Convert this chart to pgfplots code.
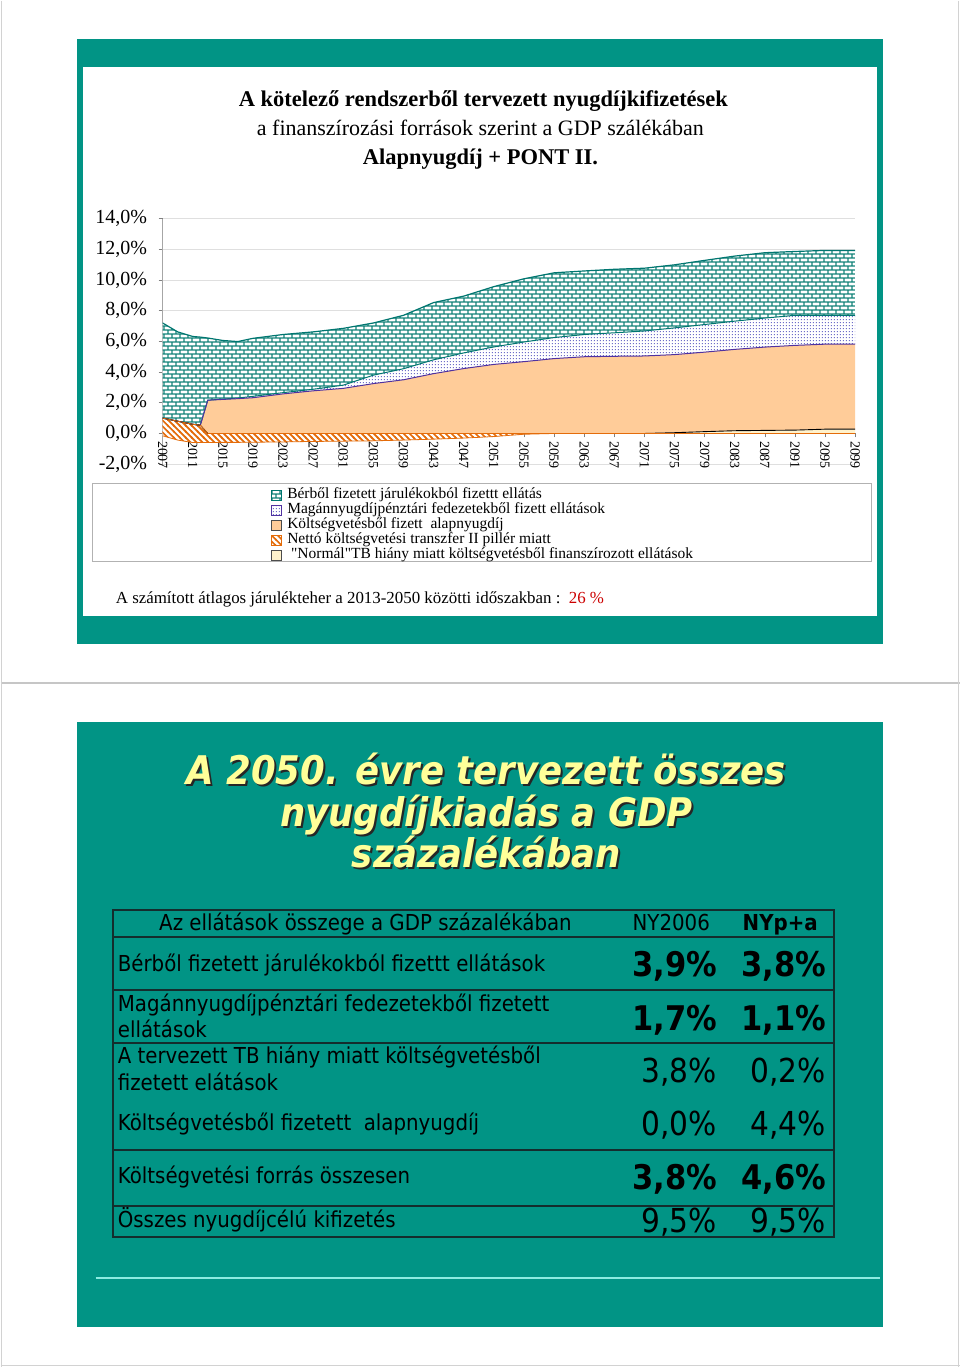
\documentclass[border=0pt]{standalone}
\usepackage{pgfplots}
\pgfplotsset{compat=1.18}
\usepackage{pgfplotstable}
\usetikzlibrary{patterns}
\usepackage{fontspec}
\setmainfont{Liberation Serif}
\newfontfamily\qfont{Liberation Serif}[Ligatures=TeXOff]
\newfontfamily\tah{DejaVu Sans}[FakeStretch=0.9]

\definecolor{slide}{RGB}{1,148,133}
\definecolor{brick}{RGB}{20,132,122}
\definecolor{brickline}{RGB}{0,118,112}
\definecolor{dotc}{RGB}{110,110,200}
\definecolor{alapc}{RGB}{255,204,153}
\definecolor{alapline}{RGB}{80,50,160}
\definecolor{hatchc}{RGB}{228,108,10}
\definecolor{tbfill}{RGB}{255,242,204}
\definecolor{titley}{RGB}{255,255,153}
\definecolor{tline}{RGB}{20,45,45}
\definecolor{deco}{RGB}{140,235,225}

% small excel-like fills
\pgfdeclarepatternformonly{xbricks}{\pgfpointorigin}{\pgfpoint{8pt}{8pt}}{\pgfpoint{8pt}{8pt}}{%
  \pgfsetlinewidth{1.45pt}%
  \pgfpathmoveto{\pgfpoint{0pt}{2pt}}\pgfpathlineto{\pgfpoint{8pt}{2pt}}%
  \pgfpathmoveto{\pgfpoint{0pt}{6pt}}\pgfpathlineto{\pgfpoint{8pt}{6pt}}%
  \pgfpathmoveto{\pgfpoint{1pt}{2pt}}\pgfpathlineto{\pgfpoint{1pt}{6pt}}%
  \pgfpathmoveto{\pgfpoint{5pt}{6pt}}\pgfpathlineto{\pgfpoint{5pt}{8pt}}%
  \pgfpathmoveto{\pgfpoint{5pt}{0pt}}\pgfpathlineto{\pgfpoint{5pt}{2pt}}%
  \pgfusepath{stroke}}
\pgfdeclarepatternformonly{xhatch}{\pgfpoint{-1pt}{-1pt}}{\pgfpoint{7pt}{7pt}}{\pgfpoint{6pt}{6pt}}{%
  \pgfsetlinewidth{1.7pt}%
  \pgfpathmoveto{\pgfpoint{-1pt}{7pt}}\pgfpathlineto{\pgfpoint{7pt}{-1pt}}%
  \pgfusepath{stroke}}
\pgfdeclarepatternformonly{xdots}{\pgfpointorigin}{\pgfpoint{3pt}{3pt}}{\pgfpoint{3pt}{3pt}}{%
  \pgfpathrectangle{\pgfpoint{1pt}{1pt}}{\pgfpoint{1pt}{1pt}}%
  \pgfusepath{fill}}

% layer sizes, % of GDP (stacked bottom to top)
% neg: negative part of the II pillar transfer, tr: transfer band, tb: "normal" TB deficit,
% al: alapnyugdij, mg: private funds, bb: contributions
\pgfplotstableread{
year  neg    tr    tb    al    mg    bb
2007 -0.15  1.15  0.00  0.00  0.00  6.20
2009 -0.43  1.23  0.00  0.00  0.00  5.82
2011 -0.59  1.19  0.00  0.00  0.00  5.72
2012 -0.59  1.13  0.00  0.00  0.00  5.74
2013 -0.59  0.59  0.00  2.17  0.00  4.05
2015 -0.58  0.58  0.00  2.22  0.02  3.82
2017 -0.58  0.58  0.00  2.27  0.04  3.68
2019 -0.57  0.57  0.00  2.33  0.09  3.78
2023 -0.55  0.55  0.00  2.58  0.08  3.79
2027 -0.52  0.52  0.00  2.78  0.10  3.74
2031 -0.50  0.50  0.00  2.94  0.21  3.70
2035 -0.48  0.48  0.00  3.25  0.55  3.40
2039 -0.43  0.43  0.00  3.50  0.72  3.48
2043 -0.37  0.37  0.00  3.90  0.90  3.73
2047 -0.30  0.30  0.00  4.23  1.02  3.70
2051 -0.20  0.20  0.00  4.50  1.14  3.93
2055 -0.05  0.05  0.00  4.68  1.28  4.12
2059  0.00  0.00  0.00  4.88  1.37  4.22
2063  0.00  0.00  0.00  5.00  1.45  4.14
2067  0.00  0.00  0.00  5.03  1.53  4.14
2071  0.00  0.00  0.00  5.05  1.63  4.09
2075  0.00  0.00  0.05  5.09  1.74  4.11
2079  0.00  0.00  0.12  5.18  1.80  4.18
2083  0.00  0.00  0.18  5.30  1.84  4.24
2087  0.00  0.00  0.20  5.43  1.89  4.26
2091  0.00  0.00  0.22  5.52  1.96  4.16
2095  0.00  0.00  0.28  5.54  1.88  4.23
2099  0.00  0.00  0.28  5.54  1.88  4.23
}\penzek

\pgfplotsset{chartbox/.style={
  at={(162pt,-464pt)}, anchor=south west,
  scale only axis, width=693pt, height=245.7pt,
  xmin=2007, xmax=2099, ymin=-2, ymax=14, stack plots=y}}

\begin{document}
\begin{tikzpicture}
\begin{scope}[x=1pt,y=-1pt]
\fill[white] (0,0) rectangle (960,1367);
\draw[gray!45, line width=1.5pt] (0,683) -- (960,683);
\draw[gray!35, line width=1pt] (0.5,0) -- (0.5,1367) (958.5,0) -- (958.5,1367) (0,1365.5) -- (960,1365.5);
\fill[slide] (76,39) rectangle (883,644);
\fill[white] (82,67) rectangle (877,616);
\fill[slide] (76,722) rectangle (883,1327);
\draw[gray!60, line width=0.8pt] (92,483) rectangle (871,561);
\end{scope}

% areas
\begin{axis}[chartbox,
  axis x line=middle, axis y line=left,
  x axis line style={-, draw=gray, line width=0.8pt},
  y axis line style={-, draw=gray!70, line width=0.8pt},
  hide obscured x ticks=false, hide obscured y ticks=false,
  tick align=outside, major tick length=4pt, minor tick length=3pt,
  tick style={draw=gray, line width=0.6pt},
  xtick={2007,2011,...,2099}, minor x tick num=3,
  xticklabels={2007,2011,2015,2019,2023,2027,2031,2035,2039,2043,2047,2051,2055,2059,2063,2067,2071,2075,2079,2083,2087,2091,2095,2099},
  xticklabel style={font=\fontsize{14}{14}\selectfont, rotate=-90, anchor=west},
  ytick={-2,0,...,14},
  yticklabels={{-2,0\%},{0,0\%},{2,0\%},{4,0\%},{6,0\%},{8,0\%},{10,0\%},{12,0\%},{14,0\%}},
  yticklabel style={font=\fontsize{20}{20}\selectfont, xshift=-8pt},
  ymajorgrids, grid style={draw=gray!25, line width=0.8pt},
  legend style={at={(axis description cs:0.1566,-0.0977)}, anchor=north west,
    draw=none, fill=none, font=\fontsize{15.5}{15.5}\selectfont, inner sep=0pt,
    nodes={inner sep=0.5pt, text height=10pt, text depth=4pt}},
  legend cell align=left,
  legend image code/.code={\draw[#1, line width=0.6pt] (0pt,-4pt) rectangle (9.5pt,5.5pt); \path (15pt,0pt);},
]
\addplot[draw=none, fill=none, forget plot] table[x=year, y=neg]{\penzek} \closedcycle;
\addplot[draw=none, pattern=xhatch, pattern color=hatchc, preaction={fill=white}, forget plot] table[x=year, y=tr]{\penzek} \closedcycle;
\addplot[draw=none, fill=tbfill, forget plot] table[x=year, y=tb]{\penzek} \closedcycle;
\addplot[draw=none, fill=alapc, forget plot] table[x=year, y=al]{\penzek} \closedcycle;
\addplot[draw=none, pattern=xdots, pattern color=dotc, preaction={fill=white}, forget plot] table[x=year, y=mg]{\penzek} \closedcycle;
\addplot[draw=none, pattern=xbricks, pattern color=brick, preaction={fill=white}, forget plot] table[x=year, y=bb]{\penzek} \closedcycle;

\addlegendimage{pattern=xbricks, pattern color=brick, draw=brickline}
\addlegendentry{Bérből fizetett járulékokból fizettt ellátás}
\addlegendimage{pattern=xdots, pattern color=dotc, draw=alapline}
\addlegendentry{Magánnyugdíjpénztári fedezetekből fizett ellátások}
\addlegendimage{fill=alapc, draw=black!70}
\addlegendentry{Költségvetésből fizett\ \ alapnyugdíj}
\addlegendimage{pattern=xhatch, pattern color=hatchc, draw=hatchc}
\addlegendentry{Nettó költségvetési transzfer II pillér miatt}
\addlegendimage{fill=tbfill, draw=black!70}
\addlegendentry{\ {\qfont"}Normál{\qfont"}TB hiány miatt költségvetésből finanszírozott ellátások}
\end{axis}

% outlines of the same stack
\begin{axis}[chartbox, hide axis]
\addplot[hatchc, line width=0.8pt] table[x=year, y=neg]{\penzek};
\addplot[hatchc, line width=0.8pt] table[x=year, y=tr]{\penzek};
\addplot[black, line width=0.9pt] table[x=year, y=tb]{\penzek};
\addplot[alapline, line width=1pt] table[x=year, y=al]{\penzek};
\addplot[brickline, line width=1pt] table[x=year, y=mg]{\penzek};
\addplot[brickline, line width=1.2pt] table[x=year, y=bb]{\penzek};
\end{axis}

\begin{scope}[x=1pt,y=-1pt, every node/.style={inner sep=0pt}]
% top slide texts
\node[anchor=base, font=\fontsize{22.5}{27}\selectfont\bfseries] at (483,106) {A kötelező rendszerből tervezett nyugdíjkifizetések};
\node[anchor=base, font=\fontsize{22}{27}\selectfont] at (480,135) {a finanszírozási források szerint a GDP szálékában};
\node[anchor=base, font=\fontsize{22.5}{27}\selectfont\bfseries] at (480,164) {Alapnyugdíj + PONT II.};
\node[anchor=base west, font=\fontsize{16.9}{19}\selectfont] at (115,603) {A számított átlagos járulékteher a 2013-2050 közötti időszakban :\ \ \textcolor{red!80!black}{26 \%}};

% bottom slide title with shadow
\foreach \txt/\yy in {{A 2050. évre tervezett összes}/785, {nyugdíjkiadás a GDP}/827, {százalékában}/868}{
  \node[anchor=base, text=black!85, font=\tah\fontsize{39.5}{42}\selectfont\bfseries\itshape] at (488,\yy+2) {\txt};
  \node[anchor=base, text=titley, font=\tah\fontsize{39.5}{42}\selectfont\bfseries\itshape] at (486,\yy) {\txt};
}

% table
\draw[tline, line width=2pt] (112,910) rectangle (834,1237);
\draw[tline, line width=2pt] (112,937) -- (834,937) (112,990) -- (834,990) (112,1043) -- (834,1043)
  (112,1150) -- (834,1150) (112,1206) -- (834,1206);
\begin{scope}[font=\tah\fontsize{22}{26}\selectfont]
\node[anchor=base] at (365,931) {Az ellátások összege a GDP százalékában};
\node[anchor=base] at (671,931) {NY2006};
\node[anchor=base] at (780,931) {\bfseries NYp+a};
\node[anchor=base west] at (117,972) {Bérből fizetett járulékokból fizettt ellátások};
\node[anchor=base west] at (117,1012) {Magánnyugdíjpénztári fedezetekből fizetett};
\node[anchor=base west] at (117,1038) {ellátások};
\node[anchor=base west] at (117,1064) {A tervezett TB hiány miatt költségvetésből};
\node[anchor=base west] at (117,1091) {fizetett elátások};
\node[anchor=base west] at (117,1131) {Költségvetésből fizetett\ \ alapnyugdíj};
\node[anchor=base west] at (117,1184) {Költségvetési forrás összesen};
\node[anchor=base west] at (117,1228) {Összes nyugdíjcélú kifizetés};
\end{scope}
\begin{scope}[font=\tah\fontsize{34}{36}\selectfont\bfseries]
\node[anchor=base east] at (717,977) {3,9\%};
\node[anchor=base east] at (826,977) {3,8\%};
\node[anchor=base east] at (717,1031) {1,7\%};
\node[anchor=base east] at (826,1031) {1,1\%};
\node[anchor=base east] at (717,1190) {3,8\%};
\node[anchor=base east] at (826,1190) {4,6\%};
\end{scope}
\begin{scope}[font=\tah\fontsize{33}{36}\selectfont]
\node[anchor=base east] at (717,1083) {3,8\%};
\node[anchor=base east] at (826,1083) {0,2\%};
\node[anchor=base east] at (717,1136) {0,0\%};
\node[anchor=base east] at (826,1136) {4,4\%};
\node[anchor=base east] at (717,1233) {9,5\%};
\node[anchor=base east] at (826,1233) {9,5\%};
\end{scope}
\draw[deco, line width=2pt] (95,1278) -- (880,1278);
\end{scope}
\end{tikzpicture}
\end{document}
